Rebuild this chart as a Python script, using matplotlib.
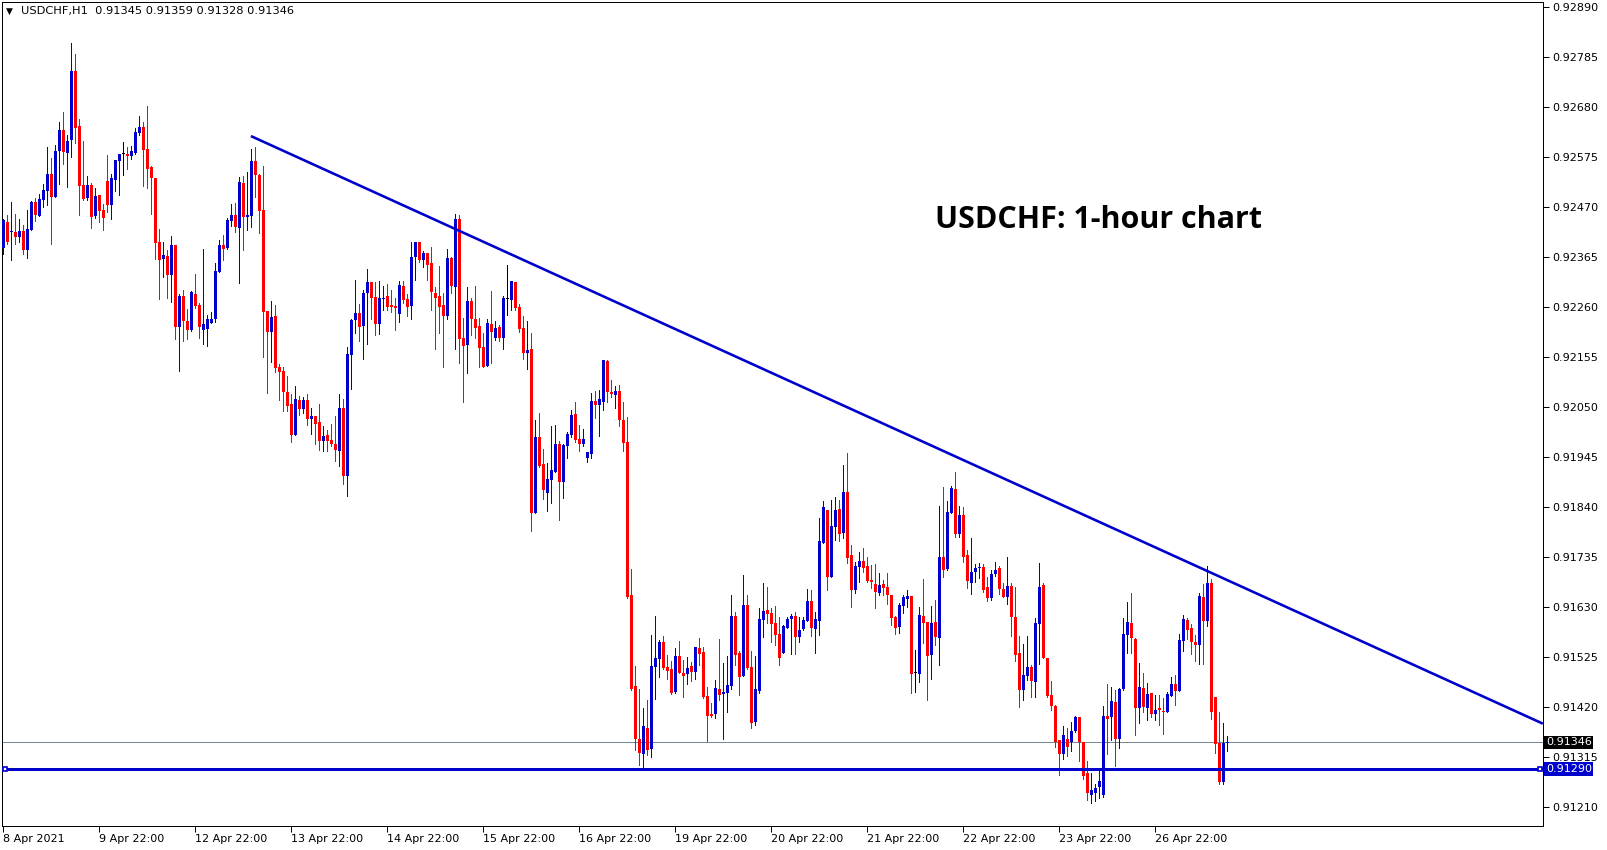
import matplotlib
matplotlib.use("Agg")
import matplotlib.pyplot as plt
import matplotlib.transforms as mtransforms
import numpy as np

symbol_header = "USDCHF,H1  0.91345 0.91359 0.91328 0.91346"
chart_title = "USDCHF: 1-hour chart"

opens = [
0.92383, 0.92438, 0.92417, 0.92417, 0.92407, 0.92419, 0.92379, 0.92422, 0.92480, 0.92452,
0.92485, 0.92504, 0.92539, 0.92492, 0.92588, 0.92631, 0.92584, 0.92611, 0.92755, 0.92640,
0.92516, 0.92489, 0.92516, 0.92452, 0.92495, 0.92463, 0.92524, 0.92475, 0.92527, 0.92567,
0.92581, 0.92581, 0.92578, 0.92583, 0.92626, 0.92638, 0.92592, 0.92554, 0.92531, 0.92397,
0.92360, 0.92367, 0.92328, 0.92390, 0.92218, 0.92283, 0.92231, 0.92212, 0.92288, 0.92264,
0.92212, 0.92214, 0.92227, 0.92235, 0.92334, 0.92390, 0.92384, 0.92441, 0.92453, 0.92426,
0.92521, 0.92449, 0.92451, 0.92567, 0.92537, 0.92464, 0.92252, 0.92208, 0.92241, 0.92134,
0.92126, 0.92082, 0.92057, 0.91991, 0.92065, 0.92046, 0.92065, 0.92025, 0.92031, 0.92019,
0.91979, 0.91991, 0.91981, 0.91973, 0.91958, 0.92048, 0.91905, 0.92159, 0.92233, 0.92248,
0.92220, 0.92290, 0.92313, 0.92281, 0.92225, 0.92276, 0.92283, 0.92264, 0.92262, 0.92246,
0.92304, 0.92276, 0.92263, 0.92364, 0.92397, 0.92358, 0.92374, 0.92353, 0.92290, 0.92283,
0.92264, 0.92242, 0.92363, 0.92303, 0.92445, 0.92194, 0.92181, 0.92273, 0.92235, 0.92221,
0.92175, 0.92137, 0.92224, 0.92195, 0.92218, 0.92195, 0.92277, 0.92274, 0.92312, 0.92260,
0.92216, 0.92163, 0.92172, 0.91827, 0.91987, 0.91930, 0.91869, 0.91896, 0.91913, 0.91972,
0.91892, 0.91968, 0.91991, 0.92035, 0.91983, 0.91972, 0.91943, 0.91951, 0.92062, 0.92054,
0.92061, 0.92146, 0.92081, 0.92075, 0.92083, 0.92022, 0.91976, 0.91655, 0.91464, 0.91353,
0.91321, 0.91376, 0.91332, 0.91504, 0.91521, 0.91556, 0.91504, 0.91500, 0.91451, 0.91527,
0.91491, 0.91489, 0.91506, 0.91493, 0.91544, 0.91535, 0.91443, 0.91405, 0.91405, 0.91458,
0.91447, 0.91450, 0.91464, 0.91611, 0.91534, 0.91485, 0.91634, 0.91504, 0.91389, 0.91454,
0.91603, 0.91624, 0.91618, 0.91597, 0.91574, 0.91534, 0.91586, 0.91605, 0.91611, 0.91567,
0.91584, 0.91601, 0.91643, 0.91584, 0.91601, 0.91765, 0.91834, 0.91693, 0.91798, 0.91836,
0.91786, 0.91872, 0.91739, 0.91666, 0.91714, 0.91727, 0.91716, 0.91687, 0.91679, 0.91660,
0.91679, 0.91672, 0.91655, 0.91609, 0.91588, 0.91632, 0.91647, 0.91653, 0.91492, 0.91490,
0.91611, 0.91599, 0.91529, 0.91599, 0.91565, 0.91735, 0.91710, 0.91828, 0.91878, 0.91784,
0.91823, 0.91739, 0.91681, 0.91704, 0.91712, 0.91714, 0.91672, 0.91649, 0.91700, 0.91712,
0.91668, 0.91651, 0.91674, 0.91609, 0.91534, 0.91456, 0.91485, 0.91504, 0.91473, 0.91595,
0.91676, 0.91523, 0.91445, 0.91422, 0.91351, 0.91322, 0.91353, 0.91347, 0.91370, 0.91399,
0.91347, 0.91281, 0.91235, 0.91240, 0.91253, 0.91235, 0.91401, 0.91400, 0.91431, 0.91353,
0.91458, 0.91571, 0.91597, 0.91563, 0.91418, 0.91460, 0.91418, 0.91450, 0.91406, 0.91418,
0.91410, 0.91410, 0.91443, 0.91469, 0.91454, 0.91559, 0.91603, 0.91586, 0.91557, 0.91550,
0.91651, 0.91601, 0.91681, 0.91441, 0.91345, 0.91263, 0.91345]

highs = [
0.92445, 0.92453, 0.92481, 0.92455, 0.92445, 0.92432, 0.92464, 0.92482, 0.92488, 0.92497,
0.92518, 0.92596, 0.92572, 0.92600, 0.92648, 0.92669, 0.92621, 0.92814, 0.92791, 0.92655,
0.92608, 0.92535, 0.92520, 0.92510, 0.92495, 0.92476, 0.92580, 0.92540, 0.92568, 0.92581,
0.92606, 0.92596, 0.92598, 0.92636, 0.92661, 0.92649, 0.92682, 0.92556, 0.92531, 0.92424,
0.92397, 0.92380, 0.92409, 0.92390, 0.92288, 0.92296, 0.92256, 0.92294, 0.92330, 0.92269,
0.92382, 0.92243, 0.92250, 0.92353, 0.92401, 0.92411, 0.92447, 0.92477, 0.92479, 0.92533,
0.92535, 0.92544, 0.92592, 0.92596, 0.92540, 0.92556, 0.92252, 0.92273, 0.92264, 0.92141,
0.92134, 0.92115, 0.92078, 0.92094, 0.92073, 0.92071, 0.92078, 0.92048, 0.92031, 0.92057,
0.92010, 0.92002, 0.92015, 0.92031, 0.92078, 0.92067, 0.92176, 0.92235, 0.92317, 0.92267,
0.92296, 0.92340, 0.92313, 0.92313, 0.92315, 0.92304, 0.92309, 0.92296, 0.92279, 0.92315,
0.92315, 0.92288, 0.92397, 0.92397, 0.92397, 0.92378, 0.92374, 0.92387, 0.92302, 0.92346,
0.92290, 0.92382, 0.92365, 0.92456, 0.92453, 0.92236, 0.92302, 0.92279, 0.92304, 0.92236,
0.92206, 0.92235, 0.92293, 0.92230, 0.92222, 0.92283, 0.92348, 0.92314, 0.92312, 0.92266,
0.92241, 0.92230, 0.92205, 0.92022, 0.92037, 0.91962, 0.91932, 0.92010, 0.92012, 0.91978,
0.91972, 0.91997, 0.92043, 0.92060, 0.92012, 0.92004, 0.91955, 0.92079, 0.92083, 0.92085,
0.92149, 0.92149, 0.92106, 0.92094, 0.92096, 0.92060, 0.92029, 0.91710, 0.91506, 0.91458,
0.91418, 0.91434, 0.91571, 0.91611, 0.91560, 0.91569, 0.91529, 0.91516, 0.91544, 0.91558,
0.91518, 0.91525, 0.91514, 0.91546, 0.91565, 0.91546, 0.91462, 0.91428, 0.91476, 0.91563,
0.91512, 0.91527, 0.91655, 0.91620, 0.91538, 0.91697, 0.91655, 0.91538, 0.91527, 0.91628,
0.91681, 0.91672, 0.91628, 0.91632, 0.91609, 0.91592, 0.91609, 0.91616, 0.91620, 0.91609,
0.91609, 0.91668, 0.91666, 0.91620, 0.91817, 0.91853, 0.91834, 0.91855, 0.91861, 0.91855,
0.91928, 0.91954, 0.91760, 0.91725, 0.91746, 0.91754, 0.91735, 0.91718, 0.91721, 0.91702,
0.91687, 0.91702, 0.91655, 0.91611, 0.91639, 0.91655, 0.91666, 0.91653, 0.91540, 0.91630,
0.91689, 0.91599, 0.91632, 0.91645, 0.91842, 0.91882, 0.91853, 0.91884, 0.91914, 0.91842,
0.91840, 0.91750, 0.91775, 0.91721, 0.91723, 0.91721, 0.91693, 0.91708, 0.91725, 0.91716,
0.91681, 0.91735, 0.91681, 0.91672, 0.91569, 0.91553, 0.91569, 0.91508, 0.91607, 0.91723,
0.91681, 0.91523, 0.91475, 0.91424, 0.91351, 0.91380, 0.91376, 0.91389, 0.91401, 0.91399,
0.91347, 0.91307, 0.91281, 0.91259, 0.91288, 0.91422, 0.91469, 0.91462, 0.91456, 0.91460,
0.91607, 0.91641, 0.91660, 0.91565, 0.91513, 0.91492, 0.91471, 0.91450, 0.91445, 0.91445,
0.91439, 0.91452, 0.91483, 0.91487, 0.91574, 0.91613, 0.91607, 0.91595, 0.91571, 0.91660,
0.91679, 0.91716, 0.91689, 0.91441, 0.91410, 0.91387, 0.91359]

lows = [
0.92372, 0.92393, 0.92359, 0.92393, 0.92396, 0.92372, 0.92362, 0.92422, 0.92441, 0.92452,
0.92471, 0.92475, 0.92393, 0.92492, 0.92519, 0.92561, 0.92512, 0.92575, 0.92605, 0.92454,
0.92485, 0.92485, 0.92426, 0.92447, 0.92439, 0.92422, 0.92460, 0.92445, 0.92504, 0.92495,
0.92538, 0.92550, 0.92571, 0.92582, 0.92621, 0.92514, 0.92510, 0.92456, 0.92361, 0.92277,
0.92322, 0.92279, 0.92271, 0.92193, 0.92126, 0.92189, 0.92193, 0.92210, 0.92258, 0.92195,
0.92183, 0.92178, 0.92227, 0.92229, 0.92334, 0.92359, 0.92382, 0.92430, 0.92418, 0.92311,
0.92380, 0.92422, 0.92428, 0.92491, 0.92416, 0.92155, 0.92080, 0.92145, 0.92124, 0.92065,
0.92042, 0.92042, 0.91977, 0.91991, 0.92033, 0.92038, 0.92012, 0.91994, 0.91973, 0.91960,
0.91958, 0.91958, 0.91968, 0.91937, 0.91926, 0.91889, 0.91863, 0.92088, 0.92206, 0.92189,
0.92151, 0.92183, 0.92234, 0.92202, 0.92204, 0.92253, 0.92253, 0.92250, 0.92211, 0.92229,
0.92269, 0.92242, 0.92234, 0.92317, 0.92355, 0.92343, 0.92317, 0.92253, 0.92171, 0.92206,
0.92135, 0.92234, 0.92290, 0.92171, 0.92143, 0.92061, 0.92122, 0.92202, 0.92194, 0.92133,
0.92135, 0.92137, 0.92143, 0.92190, 0.92188, 0.92172, 0.92243, 0.92253, 0.92253, 0.92207,
0.92151, 0.92130, 0.91789, 0.91827, 0.91924, 0.91857, 0.91831, 0.91848, 0.91913, 0.91812,
0.91859, 0.91943, 0.91987, 0.91976, 0.91957, 0.91968, 0.91934, 0.91943, 0.92027, 0.91989,
0.92043, 0.92060, 0.92071, 0.92048, 0.92010, 0.91957, 0.91649, 0.91455, 0.91329, 0.91298,
0.91290, 0.91319, 0.91315, 0.91437, 0.91483, 0.91500, 0.91479, 0.91447, 0.91449, 0.91491,
0.91441, 0.91468, 0.91474, 0.91479, 0.91508, 0.91439, 0.91348, 0.91399, 0.91397, 0.91434,
0.91353, 0.91410, 0.91458, 0.91508, 0.91445, 0.91485, 0.91500, 0.91376, 0.91382, 0.91450,
0.91567, 0.91597, 0.91557, 0.91550, 0.91508, 0.91534, 0.91586, 0.91532, 0.91532, 0.91557,
0.91582, 0.91601, 0.91569, 0.91534, 0.91571, 0.91765, 0.91666, 0.91693, 0.91771, 0.91769,
0.91775, 0.91723, 0.91630, 0.91660, 0.91683, 0.91704, 0.91683, 0.91670, 0.91628, 0.91655,
0.91655, 0.91637, 0.91592, 0.91574, 0.91576, 0.91618, 0.91630, 0.91450, 0.91452, 0.91473,
0.91555, 0.91435, 0.91479, 0.91550, 0.91508, 0.91693, 0.91708, 0.91828, 0.91777, 0.91777,
0.91725, 0.91670, 0.91658, 0.91683, 0.91691, 0.91662, 0.91643, 0.91645, 0.91695, 0.91658,
0.91651, 0.91637, 0.91569, 0.91517, 0.91420, 0.91435, 0.91477, 0.91441, 0.91441, 0.91511,
0.91523, 0.91441, 0.91414, 0.91336, 0.91277, 0.91311, 0.91317, 0.91328, 0.91368, 0.91307,
0.91269, 0.91225, 0.91218, 0.91222, 0.91228, 0.91230, 0.91322, 0.91351, 0.91296, 0.91334,
0.91456, 0.91534, 0.91534, 0.91361, 0.91387, 0.91410, 0.91393, 0.91399, 0.91393, 0.91382,
0.91364, 0.91410, 0.91443, 0.91424, 0.91454, 0.91538, 0.91563, 0.91532, 0.91517, 0.91511,
0.91511, 0.91590, 0.91395, 0.91324, 0.91258, 0.91258, 0.91328]

closes = [
0.92443, 0.92396, 0.92419, 0.92407, 0.92419, 0.92379, 0.92424, 0.92480, 0.92454, 0.92487,
0.92506, 0.92539, 0.92492, 0.92587, 0.92631, 0.92586, 0.92608, 0.92755, 0.92636, 0.92515,
0.92487, 0.92516, 0.92449, 0.92493, 0.92462, 0.92447, 0.92475, 0.92530, 0.92568, 0.92581,
0.92581, 0.92578, 0.92588, 0.92628, 0.92638, 0.92590, 0.92550, 0.92531, 0.92395, 0.92358,
0.92369, 0.92328, 0.92390, 0.92218, 0.92283, 0.92231, 0.92212, 0.92292, 0.92262, 0.92218,
0.92225, 0.92235, 0.92235, 0.92336, 0.92390, 0.92382, 0.92443, 0.92453, 0.92428, 0.92523,
0.92449, 0.92453, 0.92567, 0.92537, 0.92462, 0.92250, 0.92208, 0.92239, 0.92132, 0.92124,
0.92082, 0.92052, 0.91991, 0.92067, 0.92046, 0.92065, 0.92025, 0.92031, 0.92015, 0.91979,
0.91989, 0.91979, 0.91973, 0.91960, 0.92048, 0.91905, 0.92162, 0.92233, 0.92248, 0.92218,
0.92290, 0.92313, 0.92278, 0.92225, 0.92279, 0.92279, 0.92261, 0.92259, 0.92257, 0.92306,
0.92274, 0.92261, 0.92365, 0.92397, 0.92358, 0.92374, 0.92349, 0.92292, 0.92278, 0.92261,
0.92242, 0.92363, 0.92305, 0.92445, 0.92192, 0.92179, 0.92273, 0.92234, 0.92215, 0.92173,
0.92135, 0.92226, 0.92207, 0.92216, 0.92195, 0.92279, 0.92277, 0.92314, 0.92258, 0.92214,
0.92163, 0.92169, 0.91827, 0.91987, 0.91926, 0.91875, 0.91899, 0.91917, 0.91972, 0.91892,
0.91970, 0.91993, 0.92033, 0.91980, 0.91972, 0.91983, 0.91955, 0.92062, 0.92054, 0.92067,
0.92148, 0.92081, 0.92077, 0.92083, 0.92022, 0.91974, 0.91651, 0.91458, 0.91353, 0.91323,
0.91380, 0.91329, 0.91506, 0.91523, 0.91556, 0.91502, 0.91495, 0.91449, 0.91527, 0.91491,
0.91485, 0.91502, 0.91493, 0.91546, 0.91531, 0.91441, 0.91401, 0.91401, 0.91460, 0.91445,
0.91451, 0.91466, 0.91611, 0.91529, 0.91483, 0.91634, 0.91502, 0.91387, 0.91458, 0.91605,
0.91622, 0.91616, 0.91595, 0.91571, 0.91523, 0.91590, 0.91605, 0.91611, 0.91567, 0.91582,
0.91603, 0.91643, 0.91586, 0.91605, 0.91769, 0.91840, 0.91693, 0.91800, 0.91834, 0.91784,
0.91872, 0.91733, 0.91666, 0.91716, 0.91727, 0.91712, 0.91685, 0.91683, 0.91662, 0.91676,
0.91670, 0.91655, 0.91607, 0.91586, 0.91634, 0.91651, 0.91653, 0.91490, 0.91492, 0.91613,
0.91597, 0.91527, 0.91597, 0.91567, 0.91735, 0.91708, 0.91830, 0.91880, 0.91784, 0.91823,
0.91735, 0.91685, 0.91704, 0.91712, 0.91714, 0.91666, 0.91649, 0.91700, 0.91708, 0.91668,
0.91651, 0.91674, 0.91609, 0.91529, 0.91456, 0.91487, 0.91504, 0.91475, 0.91597, 0.91672,
0.91523, 0.91443, 0.91422, 0.91347, 0.91322, 0.91361, 0.91336, 0.91370, 0.91399, 0.91347,
0.91275, 0.91240, 0.91245, 0.91250, 0.91265, 0.91401, 0.91395, 0.91433, 0.91353, 0.91458,
0.91574, 0.91599, 0.91565, 0.91418, 0.91462, 0.91420, 0.91448, 0.91406, 0.91414, 0.91414,
0.91409, 0.91448, 0.91469, 0.91454, 0.91561, 0.91605, 0.91582, 0.91557, 0.91550, 0.91653,
0.91601, 0.91681, 0.91410, 0.91343, 0.91263, 0.91345, 0.91346]

date_labels = ["8 Apr 2021", "9 Apr 22:00", "12 Apr 22:00", "13 Apr 22:00", "14 Apr 22:00",
               "15 Apr 22:00", "16 Apr 22:00", "19 Apr 22:00", "20 Apr 22:00", "21 Apr 22:00",
               "22 Apr 22:00", "23 Apr 22:00", "26 Apr 22:00"]
date_label_bars = [0, 24, 48, 72, 96, 120, 144, 168, 192, 216, 240, 264, 288]
price_ticks = [0.92890, 0.92785, 0.92680, 0.92575, 0.92470, 0.92365, 0.92260, 0.92155, 0.92050,
               0.91945, 0.91840, 0.91735, 0.91630, 0.91525, 0.91420, 0.91315, 0.91210]

support_level = 0.91290
current_price = 0.91346
trend_bars = [61.9, 384.9]
trend_prices = [0.92619, 0.91385]

BLUE = "#0000CC"
RED = "#FF0000"
LINEBLUE = "#0000CD"

o = np.array(opens); h = np.array(highs); l = np.array(lows); c = np.array(closes)
h = np.maximum(h, np.maximum(o, c)); l = np.minimum(l, np.minimum(o, c))
x = np.arange(len(o))
cols = np.where(c > o, BLUE, np.where(c < o, RED, "#000000"))

fig = plt.figure(figsize=(16.07, 8.5), dpi=100)
fig.patch.set_facecolor("white")
ax = fig.add_axes([2/1607, 24/850, 1541/1607, 824/850])
ax.set_xlim(-0.325, 384.93)
ax.set_ylim(0.911701, 0.929005)

px = 72/100.0
ax.vlines(x, l, h, colors=cols, linewidth=1*px, antialiased=False, zorder=3)
body_bottom = np.minimum(o, c)
body_h = np.maximum(np.abs(c - o), 0.000021)
ax.bar(x, body_h, bottom=body_bottom, width=0.75, color=cols, linewidth=0, antialiased=False, zorder=4)

# horizontal lines
ax.axhline(current_price, color="#778899", linewidth=1*px, zorder=2)
ax.axhline(support_level, color=LINEBLUE, linewidth=3*px, zorder=5)
ax.plot([0.4, 384.3], [support_level, support_level], linestyle="none", marker="s", ms=3.5,
        mfc="white", mec=LINEBLUE, mew=1.2, zorder=6, clip_on=False)
ax.plot(trend_bars, trend_prices, color=LINEBLUE, linewidth=2.6*px, zorder=5, solid_capstyle="butt")

# axes styling
for s in ax.spines.values():
    s.set_color("black"); s.set_linewidth(1*px)
ax.yaxis.tick_right()
ax.set_yticks(price_ticks)
ax.set_yticklabels(["%.5f" % v for v in price_ticks])
ax.tick_params(axis="y", direction="out", length=4, width=1*px, pad=3, labelsize=8.0, colors="black")
ax.set_xticks(date_label_bars)
ax.set_xticklabels(date_labels, ha="left")
ax.tick_params(axis="x", direction="out", length=4, width=1*px, pad=2, labelsize=8.0, colors="black")
for lab in ax.get_xticklabels():
    lab.set_horizontalalignment("left")

trans = mtransforms.blended_transform_factory(ax.transAxes, ax.transData)
ax.text(1.0018, current_price, "%.5f" % current_price, transform=trans, va="center", ha="left",
        fontsize=8.0, color="white", zorder=10, clip_on=False,
        bbox=dict(boxstyle="square,pad=0.15", fc="black", ec="none"))
ax.text(1.0018, support_level, "%.5f" % support_level, transform=trans, va="center", ha="left",
        fontsize=8.0, color="white", zorder=10, clip_on=False,
        bbox=dict(boxstyle="square,pad=0.15", fc=LINEBLUE, ec="none"))

ax.text(0.0025, 0.9885, "\u25BC", transform=ax.transAxes, fontsize=6.5, va="center", ha="left")
ax.text(0.0125, 0.9885, symbol_header, transform=ax.transAxes, fontsize=8.2, va="center", ha="left")
ax.text(0.6054, 0.735, chart_title, transform=ax.transAxes, fontsize=22, fontweight="bold",
        family="Open Sans", va="center", ha="left", color="black")

fig.savefig("out.png", dpi=100, facecolor="white")
